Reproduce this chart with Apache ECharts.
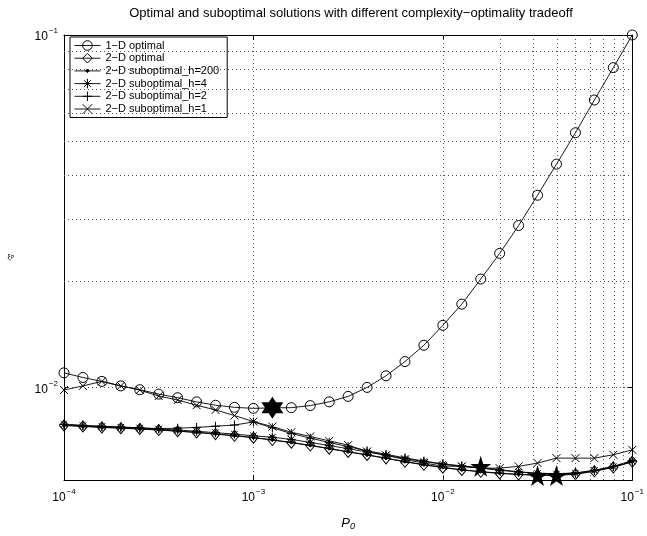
<!DOCTYPE html>
<html><head><meta charset="utf-8">
<script src="https://cdn.jsdelivr.net/npm/echarts@6/dist/echarts.min.js"></script>
<style>html,body{margin:0;padding:0;background:#fff}#c{width:647px;height:536px}</style>
</head><body><div id="c"></div>
<script>
// x values (P_0), 10 points per decade
const P0 = [1e-4,1.259e-4,1.585e-4,1.995e-4,2.512e-4,3.162e-4,3.981e-4,5.012e-4,6.310e-4,7.943e-4,
  1e-3,1.259e-3,1.585e-3,1.995e-3,2.512e-3,3.162e-3,3.981e-3,5.012e-3,6.310e-3,7.943e-3,
  1e-2,1.259e-2,1.585e-2,1.995e-2,2.512e-2,3.162e-2,3.981e-2,5.012e-2,6.310e-2,7.943e-2,1e-1];

const opt1D = [0.01100,0.01067,0.01040,0.01010,0.00985,0.00957,0.00935,0.00910,0.00890,0.00878,
  0.00872,0.00875,0.00876,0.00888,0.00910,0.00943,0.01000,0.01079,0.01184,0.01317,
  0.01500,0.01723,0.02030,0.02400,0.02880,0.03510,0.04300,0.05280,0.06540,0.08080,0.10000];
const opt2D = [0.00780,0.00775,0.00770,0.00766,0.00762,0.00757,0.00751,0.00745,0.00737,0.00729,
  0.00720,0.00709,0.00697,0.00684,0.00670,0.00656,0.00643,0.00629,0.00615,0.00603,
  0.00592,0.00583,0.00576,0.00570,0.00566,0.00563,0.00563,0.00567,0.00578,0.00593,0.00615];
const sub200 = [0.00781,0.00776,0.00771,0.00767,0.00763,0.00758,0.00752,0.00746,0.00738,0.00730,
  0.00721,0.00710,0.00698,0.00685,0.00671,0.00657,0.00644,0.00630,0.00616,0.00604,
  0.00593,0.00584,0.00577,0.00571,0.00567,0.00564,0.00564,0.00568,0.00579,0.00594,0.00616];
const sub4 = [0.00785,0.00779,0.00775,0.00771,0.00767,0.00762,0.00757,0.00751,0.00744,0.00737,
  0.00729,0.00722,0.00712,0.00698,0.00684,0.00670,0.00656,0.00642,0.00628,0.00616,
  0.00605,0.00597,0.00590,0.00582,0.00575,0.00570,0.00568,0.00571,0.00581,0.00596,0.00618];
const sub2 = [0.00786,0.00780,0.00776,0.00772,0.00768,0.00764,0.00766,0.00770,0.00776,0.00782,
  0.00798,0.00768,0.00740,0.00718,0.00698,0.00679,0.00661,0.00646,0.00631,0.00618,
  0.00607,0.00599,0.00592,0.00584,0.00576,0.00571,0.00569,0.00572,0.00582,0.00597,0.00620];
const sub1 = [0.00983,0.01010,0.01040,0.01010,0.00983,0.00945,0.00921,0.00890,0.00863,0.00832,
  0.00800,0.00774,0.00746,0.00726,0.00705,0.00686,0.00658,0.00642,0.00624,0.00610,
  0.00598,0.00597,0.00590,0.00590,0.00597,0.00610,0.00630,0.00630,0.00630,0.00644,0.00665];

// optimum markers
const hexX = [1.259e-3];
const hexY = [0.00876];
const pentX = [1.585e-2, 3.162e-2, 3.981e-2];
const pentY = [0.00597, 0.00562, 0.00562];

const names = ['1−D optimal','2−D optimal','2−D suboptimal_h=200','2−D suboptimal_h=4','2−D suboptimal_h=2','2−D suboptimal_h=1'];
const titleText = 'Optimal and suboptimal solutions with different complexity−optimality tradeoff';

const FONT = '"Liberation Sans", Arial, Helvetica, sans-serif';
const XMIN = 1e-4, XMAX = 1e-1, YMIN = 0.005461, YMAX = 0.1;

function starPath(n, inner){
  const pts = [];
  for (let i = 0; i < 2*n; i++){
    const r = (i % 2 === 0) ? 10 : 10*inner;
    const a = -Math.PI/2 + i*Math.PI/n;
    pts.push((r*Math.cos(a)).toFixed(3) + ',' + (r*Math.sin(a)).toFixed(3));
  }
  return 'path://M' + pts.join(' L') + ' Z';
}
const SYM = {
  asterisk: 'path://M-5,0 L5,0 M0,-5 L0,5 M-3.6,-3.6 L3.6,3.6 M-3.6,3.6 L3.6,-3.6',
  plus: 'path://M-5,0 L5,0 M0,-5 L0,5',
  cross: 'path://M-5,-5 L5,5 M-5,5 L5,-5',
  dot: 'path://M-5,-5 M5,5 M-1.4,-0.6 L-0.6,-1.4 L0.6,-1.4 L1.4,-0.6 L1.4,0.6 L0.6,1.4 L-0.6,1.4 L-1.4,0.6 Z',
  hex: starPath(6, 0.577),
  pent: starPath(5, 0.382)
};

function powLabel(v){
  const e = Math.log10(v), r = Math.round(e);
  if (Math.abs(e - r) > 1e-6) return '';
  return '{b|10}{s|' + (r < 0 ? '−' : '') + Math.abs(r) + '}';
}
const richPow = {
  b: {fontFamily: FONT, fontSize: 12, color: '#000', lineHeight: 16, verticalAlign: 'bottom'},
  s: {fontFamily: FONT, fontSize: 8, color: '#000', lineHeight: 16, verticalAlign: 'top', padding: [0,0,0,1]}
};

const gridStyle = {color: '#555', width: 1, type: [1, 3]};
const xMinor = [], yMinor = [];
[1e-4, 1e-3, 1e-2].forEach(d => { for (let m = 2; m <= 9; m++) xMinor.push({xAxis: m*d}); });
[6e-3, 7e-3, 8e-3, 9e-3].forEach(v => yMinor.push({yAxis: v}));
for (let m = 2; m <= 9; m++) yMinor.push({yAxis: m*1e-2});

function mk(name, vals, symbol, size, fill, z){
  return {
    name, type: 'line', data: P0.map((x, i) => [x, vals[i]]),
    symbol, symbolSize: size, showSymbol: true, showAllSymbol: true,
    lineStyle: {color: '#000', width: 0.9},
    itemStyle: {color: fill, borderColor: '#000', borderWidth: 1, opacity: 1},
    emphasis: {disabled: true}, z: z, silent: true
  };
}

const series = [
  mk(names[0], opt1D, 'circle', 10, 'transparent', 3),
  mk(names[1], opt2D, 'diamond', [9, 11], 'transparent', 3),
  mk(names[2], sub200, SYM.dot, 10, '#000', 3),
  mk(names[3], sub4, SYM.asterisk, 9, 'transparent', 3),
  mk(names[4], sub2, SYM.plus, 9, 'transparent', 3),
  mk(names[5], sub1, SYM.cross, 8, 'transparent', 3),
  {type: 'scatter', data: hexX.map((x, i) => [x, hexY[i]]), symbol: SYM.hex, symbolSize: 22,
   itemStyle: {color: '#000', opacity: 1}, z: 5, silent: true},
  {type: 'scatter', data: pentX.map((x, i) => [x, pentY[i]]), symbol: SYM.pent, symbolSize: 21,
   itemStyle: {color: '#000', opacity: 1}, z: 5, silent: true},
  {type: 'line', data: [], silent: true, z: 1,
   markLine: {silent: true, symbol: 'none', label: {show: false}, lineStyle: gridStyle, animation: false,
     data: xMinor.concat(yMinor)}}
];

const chart = echarts.init(document.getElementById('c'), null, {renderer: 'canvas'});
chart.setOption({
  animation: false,
  backgroundColor: '#fff',
  grid: {left: 64, right: 9, top: 35, bottom: 54, containLabel: false},
  graphic: [{type: 'text', x: 351, y: 13, style: {text: titleText, font: '13px ' + FONT, fill: '#000', textAlign: 'center', textVerticalAlign: 'middle'}}],
  legend: {
    data: names, orient: 'vertical', left: 70, top: 37,
    itemWidth: 26, itemHeight: 12, itemGap: 1.7,
    padding: [3, 8, 3, 4], borderColor: '#000', borderWidth: 1, backgroundColor: '#fff',
    textStyle: {fontFamily: FONT, fontSize: 11, color: '#000'},
    lineStyle: {width: 0.9, color: '#000'},
    itemStyle: {borderWidth: 1, borderColor: '#000'},
    selectedMode: false
  },
  xAxis: [
    {type: 'log', logBase: 10, min: XMIN, max: XMAX, position: 'bottom',
     axisLine: {lineStyle: {color: '#000', width: 1}},
     axisTick: {inside: true, length: 5, lineStyle: {color: '#000'}},
     axisLabel: {formatter: powLabel, rich: richPow, margin: 8, showMinLabel: true, showMaxLabel: true},
     splitLine: {show: true, lineStyle: gridStyle},
     name: '{i|P}{sub|0}', nameLocation: 'middle', nameGap: 36,
     nameTextStyle: {rich: {i: {fontFamily: FONT, fontStyle: 'italic', fontSize: 13, color: '#000'}, sub: {fontFamily: FONT, fontStyle: 'italic', fontSize: 9, color: '#000', verticalAlign: 'bottom', padding: [6,0,0,0]}}}},
    {type: 'log', logBase: 10, min: XMIN, max: XMAX, position: 'top',
     axisLine: {lineStyle: {color: '#000', width: 1}},
     axisTick: {inside: true, length: 5, lineStyle: {color: '#000'}},
     axisLabel: {show: false}, splitLine: {show: false}}
  ],
  yAxis: [
    {type: 'log', logBase: 10, min: YMIN, max: YMAX, position: 'left',
     axisLine: {lineStyle: {color: '#000', width: 1}},
     axisTick: {inside: true, length: 5, lineStyle: {color: '#000'}},
     axisLabel: {formatter: powLabel, rich: richPow, margin: 6},
     splitLine: {show: true, lineStyle: gridStyle},
     name: '{a|ξ}{b|P}', nameLocation: 'middle', nameGap: 50, nameRotate: 0,
     nameTextStyle: {rich: {a: {fontFamily: FONT, fontSize: 7, color: '#000'}, b: {fontFamily: FONT, fontSize: 5, color: '#000'}}}},
    {type: 'log', logBase: 10, min: YMIN, max: YMAX, position: 'right',
     axisLine: {lineStyle: {color: '#000', width: 1}},
     axisTick: {inside: true, length: 5, lineStyle: {color: '#000'}},
     axisLabel: {show: false}, splitLine: {show: false}}
  ],
  series: series
});
</script>
</body></html>
